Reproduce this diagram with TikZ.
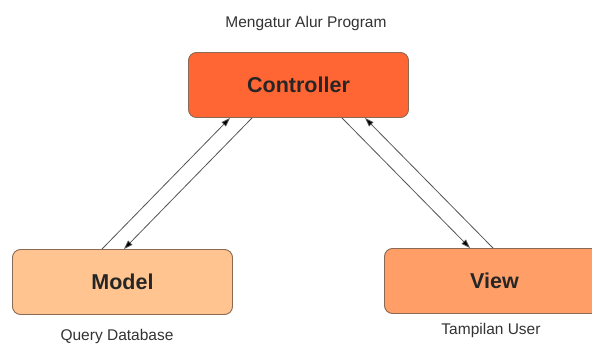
\documentclass[tikz,border=0pt]{standalone}
\usepackage{fontspec}
\setmainfont{Liberation Sans}
\usetikzlibrary{arrows.meta}
\definecolor{ctrlfill}{HTML}{FF6633}
\definecolor{modelfill}{HTML}{FFC48F}
\definecolor{viewfill}{HTML}{FF9E66}
\definecolor{boxline}{HTML}{8A6A55}
\definecolor{lnk}{HTML}{555555}
\definecolor{cap}{HTML}{333333}
\tikzset{
  box/.style={draw=boxline, line width=0.9pt, rounded corners=8pt, minimum width=220pt, minimum height=65pt, inner sep=0pt, font=\fontsize{21.5}{24}\selectfont\bfseries, text=black!85},
  caption/.style={font=\fontsize{15.5}{18}\selectfont, text=cap, inner sep=0pt},
  link/.style={draw=lnk, line width=0.8pt, -{Triangle[length=9pt,width=6pt,fill=black]}}
}
\begin{document}
\begin{tikzpicture}[x=1pt,y=-1pt]
\useasboundingbox[fill=white] (0,0) rectangle (592,345);
\node[box, fill=ctrlfill] (ctrl) at (298.5,85) {Controller};
\node[box, fill=modelfill] (model) at (122.5,282) {Model};
\node[box, fill=viewfill] (view) at (494.5,281) {View};
\node[caption] (capc) at (306,23) {Mengatur Alur Program};
\node[caption] (capm) at (117,336) {Query Database};
\node[caption] (capv) at (491,330) {Tampilan User};
\draw[link] ([xshift=-20.5pt]model.north) -- ([xshift=-68.5pt]ctrl.south);
\draw[link] ([xshift=-46.5pt]ctrl.south) -- ([xshift=1.5pt]model.north);
\draw[link] ([xshift=43.5pt]ctrl.south) -- ([xshift=-24.5pt]view.north);
\draw[link] ([xshift=-1.5pt]view.north) -- ([xshift=66.5pt]ctrl.south);
\end{tikzpicture}
\end{document}
